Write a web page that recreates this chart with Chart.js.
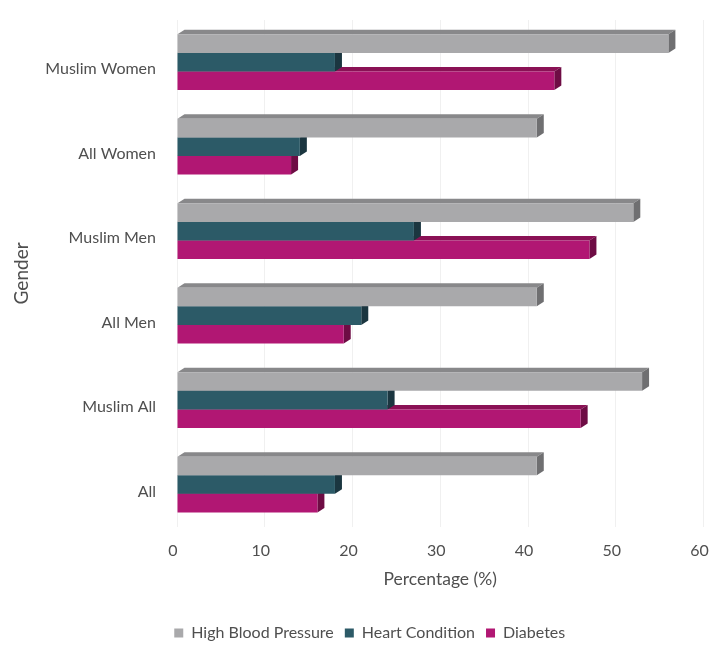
<!DOCTYPE html>
<html>
<head>
<meta charset="utf-8">
<script src="https://cdn.jsdelivr.net/npm/chart.js@4/dist/chart.umd.min.js"></script>
<style>
  html, body { margin: 0; padding: 0; background: #ffffff; }
  #wrap { width: 715px; height: 655px; }
</style>
</head>
<body>
<div id="wrap"><canvas id="c"></canvas></div>
<script>
// Survey groups, top to bottom
const categories = ['Muslim Women', 'All Women', 'Muslim Men', 'All Men', 'Muslim All', 'All'];

// Share of each group reporting the condition (%)
const highBloodPressure = [56, 41, 52, 41, 53, 41];
const heartCondition    = [18, 14, 27, 21, 24, 18];
const diabetes          = [43, 13, 47, 19, 46, 16];

// Percentage axis ticks
const xTicks = [0, 10, 20, 30, 40, 50, 60];

const FONT = 'Lato, "Open Sans", "DejaVu Sans", sans-serif';
const TEXT = '#4f4f4f';

// Shaded top and end faces give each bar a bevelled, extruded look.
const DX = 7, DY = 4.5;
const barDepth = {
  id: 'barDepth',
  beforeDatasetsDraw(chart) {
    const ctx = chart.ctx;
    ctx.save();
    for (let d = chart.data.datasets.length - 1; d >= 0; d--) {
      const ds = chart.data.datasets[d];
      const meta = chart.getDatasetMeta(d);
      meta.data.forEach(bar => {
        const p = bar.getProps(['x', 'y', 'base', 'height'], true);
        const top = p.y - p.height / 2;
        const bottom = p.y + p.height / 2;
        // top face
        ctx.fillStyle = ds.topFace;
        ctx.beginPath();
        ctx.moveTo(p.base, top);
        ctx.lineTo(p.base + DX, top - DY);
        ctx.lineTo(p.x + DX, top - DY);
        ctx.lineTo(p.x, top);
        ctx.closePath();
        ctx.fill();
        // end face
        ctx.fillStyle = ds.endFace;
        ctx.beginPath();
        ctx.moveTo(p.x, top);
        ctx.lineTo(p.x + DX, top - DY);
        ctx.lineTo(p.x + DX, bottom - DY);
        ctx.lineTo(p.x, bottom);
        ctx.closePath();
        ctx.fill();
      });
    }
    ctx.restore();
  }
};

new Chart(document.getElementById('c'), {
  type: 'bar',
  data: {
    labels: categories,
    datasets: [
      { label: 'High Blood Pressure', data: highBloodPressure,
        backgroundColor: '#a9a9ab', topFace: '#88888a', endFace: '#6f6f71' },
      { label: 'Heart Condition', data: heartCondition,
        backgroundColor: '#2c5a67', topFace: '#224954', endFace: '#1b3640' },
      { label: 'Diabetes', data: diabetes,
        backgroundColor: '#b11773', topFace: '#8a1155', endFace: '#6e0c44' }
    ]
  },
  options: {
    indexAxis: 'y',
    responsive: true,
    maintainAspectRatio: false,
    animation: false,
    devicePixelRatio: 1,
    layout: { padding: { left: 36, right: 11.5, top: 20, bottom: 4 } },
    datasets: {
      bar: { categoryPercentage: 0.66, barPercentage: 1.0, borderWidth: 0 }
    },
    scales: {
      x: {
        min: 0, max: 60,
        afterBuildTicks(scale) { scale.ticks = xTicks.map(v => ({ value: v })); },
        afterFit(scale) { scale.paddingLeft = 0; scale.paddingRight = 0; },
        grid: { color: '#f0f0f0', lineWidth: 1, drawTicks: false },
        border: { display: false },
        ticks: { padding: 14, labelOffset: -4, color: TEXT, font: { family: FONT, size: 16 } },
        title: { display: true, text: 'Percentage (%)', color: TEXT,
                 font: { family: FONT, size: 17.5 }, padding: { top: -5, bottom: 24 } }
      },
      y: {
        afterFit(scale) { scale.width = 141; scale.paddingTop = 0; scale.paddingBottom = 0; },
        grid: { display: false, drawTicks: false },
        border: { display: false },
        ticks: { padding: 21, labelOffset: 7, color: TEXT, font: { family: FONT, size: 16 } },
        title: { display: true, text: 'Gender', color: TEXT,
                 font: { family: FONT, size: 19 }, padding: { top: -25.4, bottom: 0 } }
      }
    },
    plugins: {
      legend: {
        position: 'bottom',
        labels: { boxWidth: 9, boxHeight: 9, padding: 11, color: TEXT,
                  font: { family: FONT, size: 16 } }
      },
      tooltip: { enabled: false }
    }
  },
  plugins: [barDepth]
});
</script>
</body>
</html>
